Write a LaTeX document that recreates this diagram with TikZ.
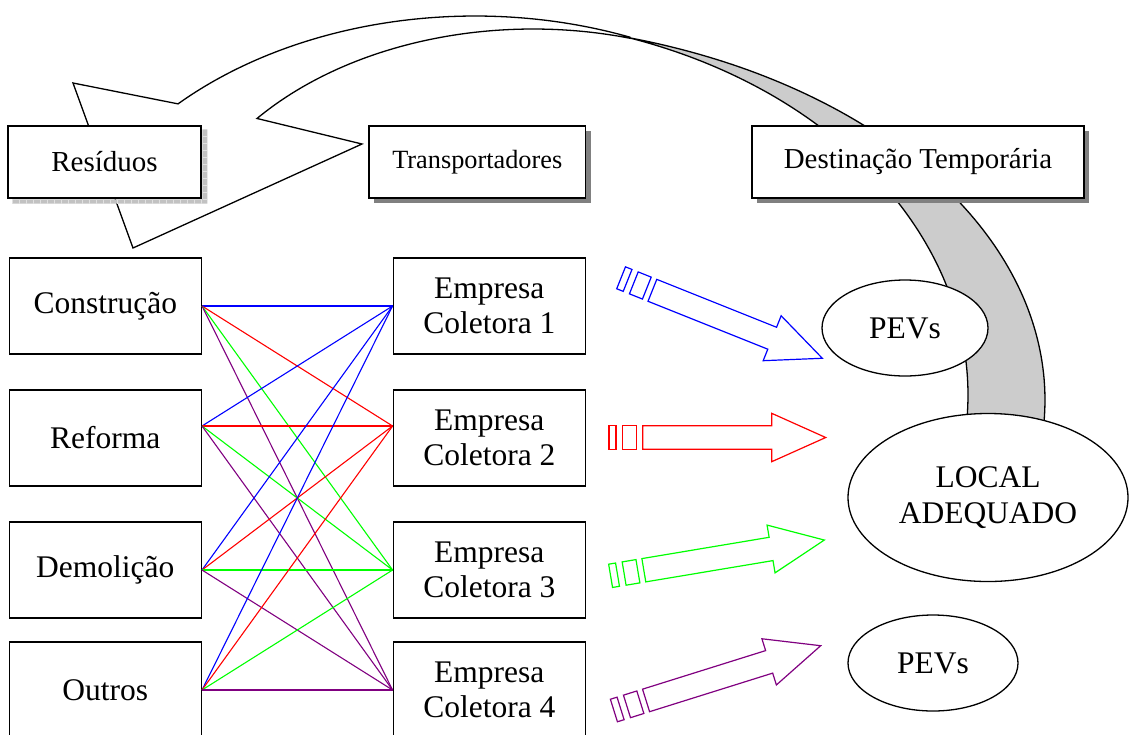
\documentclass[tikz,border=0pt]{standalone}
\usepackage{fontspec}
\setmainfont{Liberation Serif}
\usetikzlibrary{shapes.geometric,shadows,calc}
\definecolor{linkviolet}{RGB}{128,0,128}
\definecolor{ribbonback}{RGB}{204,204,204}
\begin{document}
\begin{tikzpicture}[x=1pt,y=-1pt,
  box/.style={draw=black, line width=1.4pt, fill=white, minimum width=192pt,
    minimum height=96pt, inner sep=0pt, align=center,
    font=\fontsize{31.5}{35}\selectfont},
  headbox/.style={draw=black, line width=1.4pt, fill=white, minimum height=72pt,
    inner sep=0pt},
  darkshadow/.style={drop shadow={shadow xshift=5pt, shadow yshift=-5pt,
    fill=black!50, opacity=1}},
  texshadow/.style={fill=black!24},
  texline/.style={draw=black!12, line width=0.8pt},
  place/.style={ellipse, draw=black, line width=1.3pt, fill=white, inner sep=0pt,
    align=center, font=\fontsize{31.5}{36}\selectfont},
  link/.style={line width=1.1pt},
  ribbon/.style={draw=black, line width=1.3pt, line join=miter},
  stripe/.style={line width=1.2pt, line join=miter},
  striped/.pic={
    \draw[stripe] (0,-11.8) rectangle (7,11.8);
    \draw[stripe] (13.7,-11.8) rectangle (27.7,11.8);
    \draw[stripe] (33.7,-11.8) -- (162.7,-11.8) -- (162.7,-24.2) -- (216.7,0)
      -- (162.7,24.2) -- (162.7,11.8) -- (33.7,11.8) -- cycle;
  },
]
\useasboundingbox (0,0) rectangle (1129,734);
\clip (0,0) rectangle (1129,734);

% curved arrow: front face with its head
\filldraw[ribbon, fill=white]
  plot[domain=-135:-68.34, samples=70, variable=\t] ({475+420*cos(\t)}, {316+300*sin(\t)})
  -- plot[domain=-74.37:-140.05, samples=70, variable=\t] ({533+360*cos(\t)}, {279+250*sin(\t)})
  -- (362,144) -- (133,248) -- (73,83) -- cycle;
% curved arrow: back face running down to the local
\filldraw[ribbon, fill=ribbonback]
  plot[domain=-73.84:8, samples=90, variable=\t] ({470+575*cos(\t)}, {400+377*sin(\t)})
  -- plot[domain=10:-71.26, samples=90, variable=\t] ({470+498*cos(\t)}, {395+377*sin(\t)})
  -- cycle;

% column headers
\node[headbox, minimum width=193pt, font=\fontsize{29}{34}\selectfont]
  (hres) at (104.5,162) {Resíduos};
\node[headbox, darkshadow, minimum width=216.5pt, font=\fontsize{26.3}{31}\selectfont]
  (htra) at (477.3,162) {Transportadores};
\node[headbox, darkshadow, minimum width=332pt, font=\fontsize{28.9}{34}\selectfont]
  (hdes) at (918,162) {Destinação Temporária};

% textured shadow of the first header
\fill[texshadow] ($(hres.north east)+(0.7,4)$) -- ++(5,0)
  -- ($(hres.south east)+(5.7,5)$) -- ($(hres.south west)+(5,5)$)
  -- ($(hres.south west)+(5,0.7)$) -- ($(hres.south east)+(0.7,0.7)$) -- cycle;
\foreach \k in {0,...,27}
  \draw[texline] ($(hres.south west)+(5+7*\k,0.9)$) -- ++(0,4);
\foreach \k in {1,...,10}
  \draw[texline] ($(hres.north east)+(0.9,4+7*\k)$) -- ++(4.6,0);

% waste types
\node[box] (c) at (105.3,306) {Construção};
\node[box] (r) at (105.3,438) {Reforma};
\node[box] (d) at (105.3,570) {Demolição};
\node[box] (o) at (105.3,690) {Outros};

% collecting companies
\node[box] (e1) at (489.3,306) {Empresa\\Coletora 1};
\node[box] (e2) at (489.3,438) {Empresa\\Coletora 2};
\node[box] (e3) at (489.3,570) {Empresa\\Coletora 3};
\node[box] (e4) at (489.3,690) {Empresa\\Coletora 4};

% attachment points of the links
\coordinate (cp) at (c.east);
\coordinate (rp) at ([yshift=12pt]r.east);
\coordinate (dp) at (d.east);
\coordinate (op) at (o.east);
\coordinate (e1p) at (e1.west);
\coordinate (e2p) at ([yshift=12pt]e2.west);
\coordinate (e3p) at (e3.west);
\coordinate (e4p) at (e4.west);

% every waste type to every company, coloured by company
\foreach \s in {cp,rp,dp,op} {
  \draw[link, blue] (\s) -- (e1p);
  \draw[link, red] (\s) -- (e2p);
  \draw[link, green] (\s) -- (e3p);
  \draw[link, linkviolet] (\s) -- (e4p);
}

% destinations
\node[place, minimum width=166pt, minimum height=96pt] (pev1) at (905,328) {PEVs};
\node[place, minimum width=280pt, minimum height=168pt] (local) at (988,497.5) {LOCAL\\ADEQUADO};
\node[place, minimum width=170pt, minimum height=96pt] (pev2) at (933,663) {PEVs};

% striped arrows towards the destinations
\pic[blue, rotate=-21.8] at (621.1,277.8) {striped};
\pic[red] at (609,437.5) {striped};
\pic[green, rotate=9.5] at (610.6,575.8) {striped};
\pic[linkviolet, rotate=17.4] at (613.9,710.5) {striped};
\end{tikzpicture}
\end{document}
